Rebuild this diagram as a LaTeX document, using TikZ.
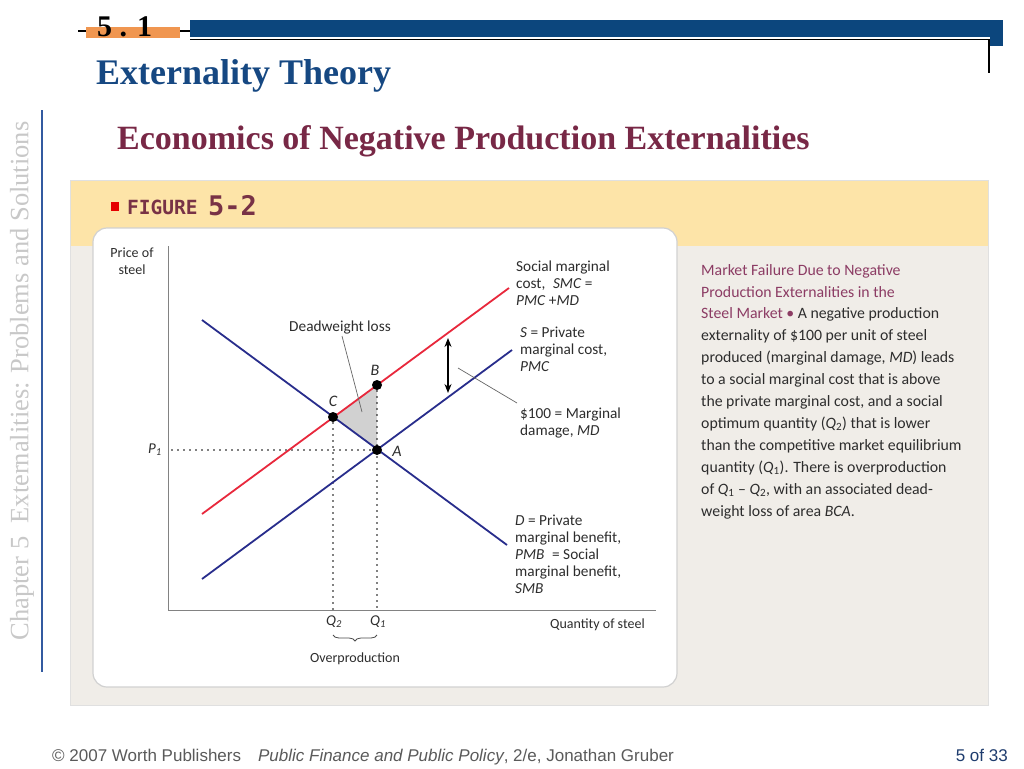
\documentclass[tikz,border=0pt]{standalone}
\usepackage{fontspec}
\setmainfont{Liberation Serif}
\newfontfamily\cf{Carlito}
\newfontfamily\af{Liberation Sans}
\newfontfamily\mf{DejaVu Sans Mono}
\usetikzlibrary{arrows.meta,decorations.pathreplacing}
\definecolor{barblue}{RGB}{12,70,125}
\definecolor{orng}{RGB}{240,150,80}
\definecolor{titleblue}{RGB}{22,72,130}
\definecolor{submaroon}{RGB}{120,40,70}
\definecolor{sidegrey}{RGB}{200,200,200}
\definecolor{sideblue}{RGB}{50,90,160}
\definecolor{yel}{RGB}{253,228,168}
\definecolor{panel}{RGB}{240,237,232}
\definecolor{redline}{RGB}{232,40,60}
\definecolor{navy}{RGB}{40,45,140}
\definecolor{capmaroon}{RGB}{140,60,100}
\definecolor{bodytext}{RGB}{45,45,45}
\definecolor{figmaroon}{RGB}{120,50,70}
\definecolor{footgrey}{RGB}{90,90,90}
\definecolor{footblue}{RGB}{30,60,110}
\definecolor{axisgrey}{RGB}{130,130,130}
\tikzset{
  lbl/.style={font=\cf\fontsize{14}{17}\selectfont, text=bodytext, inner sep=0pt, align=left},
  clbl/.style={lbl, font=\cf\fontsize{15.3}{17}\selectfont},
  curve/.style={line width=1.8pt},
  dotline/.style={line width=1.8pt, dash pattern=on 0pt off 6pt, line cap=round},
  pt/.style={circle, fill=black, inner sep=0pt, minimum size=10pt},
  leader/.style={draw=black!60, line width=0.7pt},
}
\begin{document}
\begin{tikzpicture}[x=1pt,y=-1pt]
\useasboundingbox (0,0) rectangle (1024,768);
\fill[white] (0,0) rectangle (1024,768);

% header
\fill[orng] (86,27) rectangle (180,38);
\draw[black, line width=1.3pt] (78,31) -- (86,31) (180,31) -- (190,31);
\node[anchor=base west, inner sep=0pt, font=\bfseries\fontsize{30}{30}\selectfont] (num) at (97,37) {5 . 1};
\fill[barblue] (190,20) rectangle (1003,37);
\fill[barblue] (990,20) rectangle (1003,46);
\draw[black, line width=1.6pt] (190,39.5) -- (989,39.5) -- (989,73);
\node[anchor=base west, inner sep=0pt, text=titleblue, font=\bfseries\fontsize{36}{36}\selectfont] (title) at (96,84) {Externality Theory};

% side
\node[rotate=90, text=sidegrey, inner sep=0pt, font=\fontsize{26.5}{26.5}\selectfont] (side) at (22,381) {Chapter 5\enspace Externalities: Problems and Solutions};
\draw[sideblue, line width=1.2pt] (42,110) -- (42,672);

% subtitle
\node[anchor=base west, inner sep=0pt, text=submaroon, font=\bfseries\fontsize{34}{34}\selectfont] (sub) at (117,149) {Economics of Negative Production Externalities};

% panel
\fill[panel] (70,180) rectangle (988,705);
\fill[yel] (70,180) rectangle (988,246);
\draw[black!12, line width=0.8pt] (70,180) rectangle (988,705);
\draw[black!18, fill=white, line width=1.2pt, rounded corners=14pt] (93,228) rectangle (677,687);
\fill[red!90!black] (111,202) rectangle (119,211);
\node[anchor=base west, inner sep=0pt, text=figmaroon, font=\mf\bfseries\fontsize{19.5}{19.5}\selectfont] (fig) at (127,214) {FIGURE};
\node[anchor=base west, inner sep=0pt, text=figmaroon, font=\mf\bfseries\fontsize{27}{27}\selectfont] (fignum) at (208,215) {5-2};

% axes
\coordinate (Ytop) at (168,246);
\coordinate (O) at (168,610);
\coordinate (Xend) at (656,610);
\draw[axisgrey, line width=1pt] (Ytop) -- (O) -- (Xend);

% key points
\coordinate (A) at (377,450);
\coordinate (B) at (377,385);
\coordinate (C) at (333,417);
\coordinate (Q1) at (377,610);
\coordinate (Q2) at (333,610);
\coordinate (P1) at (172,450);

% shaded DWL
\fill[black!18] (B) -- (C) -- (A) -- cycle;

% dotted
\draw[dotline] (P1) -- (A);
\draw[dotline] (C) -- (Q2);
\draw[dotline] (B) -- (Q1);

% curves
\coordinate (D1) at (202,320); \coordinate (D2) at (507,545);
\coordinate (S1) at (202,579); \coordinate (S2) at (512,350);
\coordinate (M1) at (202,514); \coordinate (M2) at (509,288);
\draw[curve, redline] (M1) -- (M2);
\draw[curve, navy] (S1) -- (S2);
\draw[curve, navy] (D1) -- (D2);

% dots
\node[pt] (dA) at (A) {};
\node[pt] (dB) at (B) {};
\node[pt] (dC) at (C) {};

% point labels
\node[lbl, font=\cf\itshape\fontsize{16}{16}\selectfont] (lA) at (397,451) {A};
\node[lbl, font=\cf\itshape\fontsize{16}{16}\selectfont] (lB) at (375,370) {B};
\node[lbl, font=\cf\itshape\fontsize{16}{16}\selectfont] (lC) at (333,401) {C};
\node[lbl, font=\cf\itshape\fontsize{15}{15}\selectfont] (lP) at (155,450) {P\textsubscript{1}};
\node[lbl, font=\cf\itshape\fontsize{15}{15}\selectfont] (lQ2) at (334,622) {Q\textsubscript{2}};
\node[lbl, font=\cf\itshape\fontsize{15}{15}\selectfont] (lQ1) at (378,622) {Q\textsubscript{1}};

% axis labels
\node[lbl, align=center] (ylab) at (132,261) {Price of\\steel};
\node[lbl, anchor=base west] (xlab) at (550,628) {Quantity of steel};

% brace
\draw[black!70, line width=0.8pt, decorate, decoration={brace, mirror, amplitude=6pt}] (333,635) -- (377,635);
\node[lbl] (over) at (355,659) {Overproduction};

% deadweight
\node[clbl] (dwl) at (340,327) {Deadweight loss};
\draw[leader] (342,336) -- (362,412);

% MD arrow
\coordinate (ar1) at (448,338);
\coordinate (ar2) at (448,393);
\draw[black, line width=1.3pt, {Stealth[length=9pt,width=7pt]}-{Stealth[length=9pt,width=7pt]}] (ar1) -- (ar2);
\draw[leader] (458,368) -- (517,403);

% curve labels (anchor base = last line)
\node[clbl, anchor=base west] (smc) at (516,305) {Social marginal\\cost,\enspace\textit{SMC} =\\\textit{PMC} +\textit{MD}};
\node[clbl, anchor=base west] (pmc) at (520,371) {\textit{S} = Private\\marginal cost,\\\textit{PMC}};
\node[clbl, anchor=base west] (md) at (520,435) {\$100 = Marginal\\damage, \textit{MD}};
\node[clbl, anchor=base west] (dlab) at (515,593) {\textit{D} = Private\\marginal benefit,\\\textit{PMB}\enspace= Social\\marginal benefit,\\\textit{SMB}};

% caption (anchor base = last line)
\node[anchor=base west, inner sep=0pt, align=left, text=bodytext, font=\cf\fontsize{15.8}{21.9}\selectfont] (cap) at (701,516) {%
{\color{capmaroon}Market Failure Due to Negative}\\
{\color{capmaroon}Production Externalities in the}\\
{\color{capmaroon}Steel Market \textbullet} A negative production\\
externality of \$100 per unit of steel\\
produced (marginal damage, \textit{MD}) leads\\
to a social marginal cost that is above\\
the private marginal cost, and a social\\
optimum quantity (\textit{Q}\textsubscript{2}) that is lower\\
than the competitive market equilibrium\\
quantity (\textit{Q}\textsubscript{1}). There is overproduction\\
of \textit{Q}\textsubscript{1} – \textit{Q}\textsubscript{2}, with an associated dead-\\
weight loss of area \textit{BCA}.};

% footer
\node[anchor=base west, inner sep=0pt, text=footgrey, font=\af\fontsize{17}{17}\selectfont] (foot) at (52,761) {© 2007 Worth Publishers\quad\textit{Public Finance and Public Policy}, 2/e, Jonathan Gruber};
\node[anchor=base east, inner sep=0pt, text=footblue, font=\af\fontsize{17}{17}\selectfont] (page) at (1008,761) {5 of 33};
\end{tikzpicture}
\end{document}
